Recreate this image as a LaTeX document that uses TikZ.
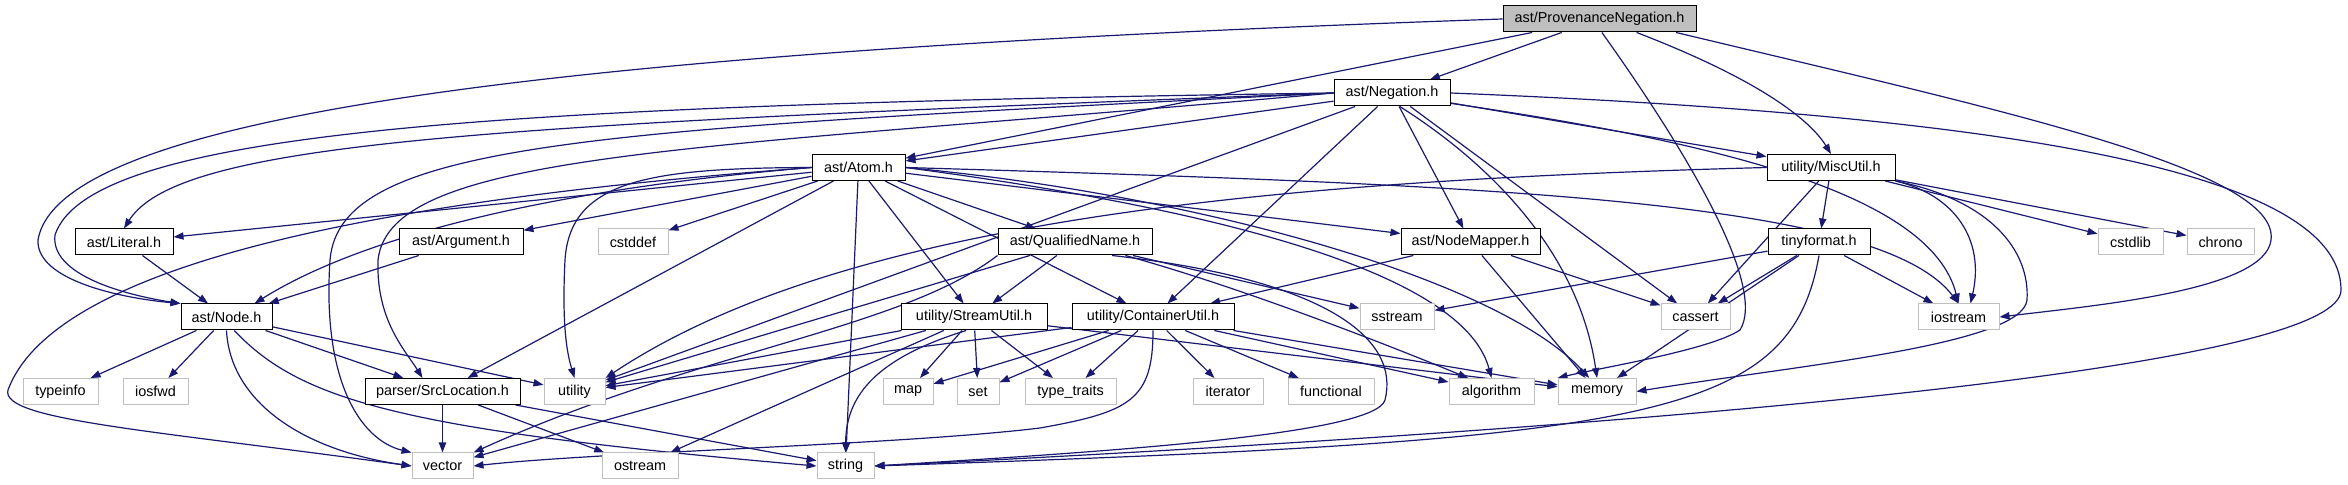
\documentclass[tikz,border=0pt]{standalone}
\usepackage{fontspec}
\setmainfont{Liberation Sans}
\usetikzlibrary{arrows.meta}
\definecolor{edgeblue}{HTML}{191970}
\definecolor{sysgray}{HTML}{BFBFBF}
\pgfdeclarelayer{bg}
\pgfsetlayers{bg,main}
\begin{document}
\begin{tikzpicture}[x=0.5pt,y=-0.5pt,
  box/.style={draw=black,line width=0.5pt,fill=white,inner sep=0pt,minimum height=13pt,font=\fontsize{7.2}{8.6}\selectfont},
  sysbox/.style={box,draw=sysgray},
  rootbox/.style={box,fill=sysgray},
  dep/.style={draw=edgeblue,line width=0.6pt,-{Triangle[length=5pt,width=3.6pt]}}]
\useasboundingbox (0,0) rectangle (2348,485);
\node[rootbox,minimum width=96.5pt] (prov) at (1599.5,19) {ast/ProvenanceNegation.h};
\foreach \n/\x/\y/\w/\lab in {negation/1392/93/116/{ast/Negation.h}, atom/858.5/167.5/93/{ast/Atom.h},
  miscutil/1831/167.5/128/{utility/MiscUtil.h}, literal/124/242/98/{ast/Literal.h},
  argument/461/242/124/{ast/Argument.h}, qualname/1075/242/154/{ast/QualifiedName.h},
  nodemapper/1470.5/242/139/{ast/NodeMapper.h}, tinyformat/1819/242/102/{tinyformat.h},
  node/226.5/317/91/{ast/Node.h}, streamutil/974/317/146/{utility/StreamUtil.h},
  containerutil/1153/317/162/{utility/ContainerUtil.h}, srcloc/442.5/391.5/155/{parser/SrcLocation.h}} {
  \node[box,minimum width=\w*0.5pt] (\n) at (\x,\y) {\lab};
}
\foreach \n/\x/\y/\w/\lab in {cstddef/633/242/70/cstddef, cstdlib/2130.5/242/65/cstdlib, chrono/2220.5/242/67/chrono,
  sstream/1397/317/74/sstream, cassert/1695.5/317/69/cassert, iostream/1958.5/317/81/iostream,
  typeinfo/60.5/391.5/75/typeinfo, iosfwd/155.5/391.5/65/iosfwd, utility/574.5/391.5/61/utility,
  map/908/391.5/50/map, set/978/391.5/42/set, typetraits/1070.5/391.5/91/{type\_traits},
  iterator/1228/391.5/70/iterator, functional/1331/391.5/86/functional, algorithm/1491.5/391.5/85/algorithm,
  memory/1597/391.5/78/memory, vector/442.5/466/61/vector, ostream/640/466/76/ostream, string/845.5/466/57/string} {
  \node[sysbox,minimum width=\w*0.5pt] (\n) at (\x,\y) {\lab};
}
\begin{pgfonlayer}{bg}
\foreach \a/\b in {prov/negation, prov/atom, negation/atom, negation/utility, negation/containerutil,
  negation/nodemapper, negation/cassert, negation/miscutil, atom/literal, atom/argument, atom/cstddef,
  atom/srcloc, atom/string, atom/streamutil, atom/containerutil, atom/qualname, atom/nodemapper,
  literal/node, argument/node, node/typeinfo, node/iosfwd, node/srcloc, node/utility,
  srcloc/vector, srcloc/ostream, srcloc/string, qualname/streamutil, qualname/utility, qualname/sstream,
  streamutil/utility, streamutil/vector, streamutil/ostream, streamutil/map, streamutil/set,
  streamutil/typetraits, streamutil/memory, containerutil/utility, containerutil/map, containerutil/set,
  containerutil/typetraits, containerutil/iterator, containerutil/functional, containerutil/algorithm,
  containerutil/memory, nodemapper/containerutil, nodemapper/memory, nodemapper/cassert,
  miscutil/cassert, miscutil/tinyformat, miscutil/cstdlib, miscutil/chrono,
  tinyformat/sstream, tinyformat/cassert, tinyformat/iostream, tinyformat/memory} {
  \draw[dep] (\a) -- (\b);
}
\draw[dep] (prov.west) .. controls (600,50) and (60,110) .. (38,240) .. controls (36,280) and (120,298) .. (node.north west);
\draw[dep] (negation.west) .. controls (500,105) and (90,130) .. (55,235) .. controls (50,275) and (125,295) .. (node.north west);
\draw[dep] (negation.west) .. controls (500,125) and (180,140) .. (literal.north);
\draw[dep] (negation.west) .. controls (600,130) and (340,140) .. (330,260) .. controls (322,380) and (360,440) .. (vector.north west);
\draw[dep] (negation.west) .. controls (700,150) and (390,150) .. (378,260) .. controls (376,320) and (405,350) .. ([xshift=-10pt]srcloc.north);
\draw[dep] (negation.east) .. controls (2000,115) and (2341,170) .. (2341,290) .. controls (2341,360) and (1800,420) .. (string.east);
\draw[dep] (negation.-10) .. controls (1700,140) and (1930,190) .. (iostream.north);
\draw[dep] (negation.-60) .. controls (1500,170) and (1580,260) .. (memory.north);
\draw[dep] (prov.-10) .. controls (2000,110) and (2280,170) .. (2271,240) .. controls (2265,290) and (2100,305) .. (iostream.east);
\draw[dep] (prov.-20) .. controls (1760,80) and (1810,120) .. (miscutil.north);
\draw[dep] (prov.-80) .. controls (1700,170) and (1765,290) .. (1740,330) .. controls (1710,350) and (1600,368) .. (memory.north west);
\draw[dep] (atom.west) .. controls (600,185) and (380,225) .. ([xshift=-9pt]node.north east);
\draw[dep] (atom.west) .. controls (450,195) and (60,250) .. (8,390) .. controls (0,420) and (150,430) .. (vector.west);
\draw[dep] (atom.west) .. controls (650,168) and (570,180) .. (565,260) .. controls (562,320) and (566,350) .. (utility.north);
\draw[dep] (atom.east) .. controls (1150,200) and (1460,260) .. (algorithm.north);
\draw[dep] (atom.east) .. controls (1200,195) and (1500,280) .. (memory.120);
\draw[dep] (atom.east) .. controls (1500,185) and (1880,200) .. (iostream.north);
\draw[dep] (node.-60) .. controls (300,400) and (400,430) .. (string.west);
\draw[dep] (node.south) .. controls (230,400) and (300,450) .. (vector.west);
\draw[dep] (containerutil.south) .. controls (1153,400) and (1130,412) .. (1040,428) .. controls (900,445) and (600,452) .. (vector.east);
\draw[dep] (qualname.-20) .. controls (1330,280) and (1400,340) .. (1385,400) .. controls (1375,435) and (1100,452) .. (string.east);
\draw[dep] (qualname.south west) .. controls (900,330) and (700,350) .. (vector.north east);
\draw[dep] (qualname.-15) .. controls (1250,290) and (1400,350) .. (algorithm.150);
\draw[dep] (streamutil.-120) .. controls (870,360) and (846,400) .. (string.north);
\draw[dep] (tinyformat.south) .. controls (1790,420) and (1650,440) .. (string.east);
\draw[dep] (miscutil.south east) .. controls (1990,200) and (2030,250) .. (2027,300) .. controls (2022,345) and (1800,365) .. (memory.east);
\draw[dep] (miscutil.south east) .. controls (1955,195) and (1985,240) .. ([xshift=6pt]iostream.north);
\draw[dep] (miscutil.west) .. controls (1300,180) and (850,215) .. (utility.north east);
\end{pgfonlayer}
\end{tikzpicture}
\end{document}
